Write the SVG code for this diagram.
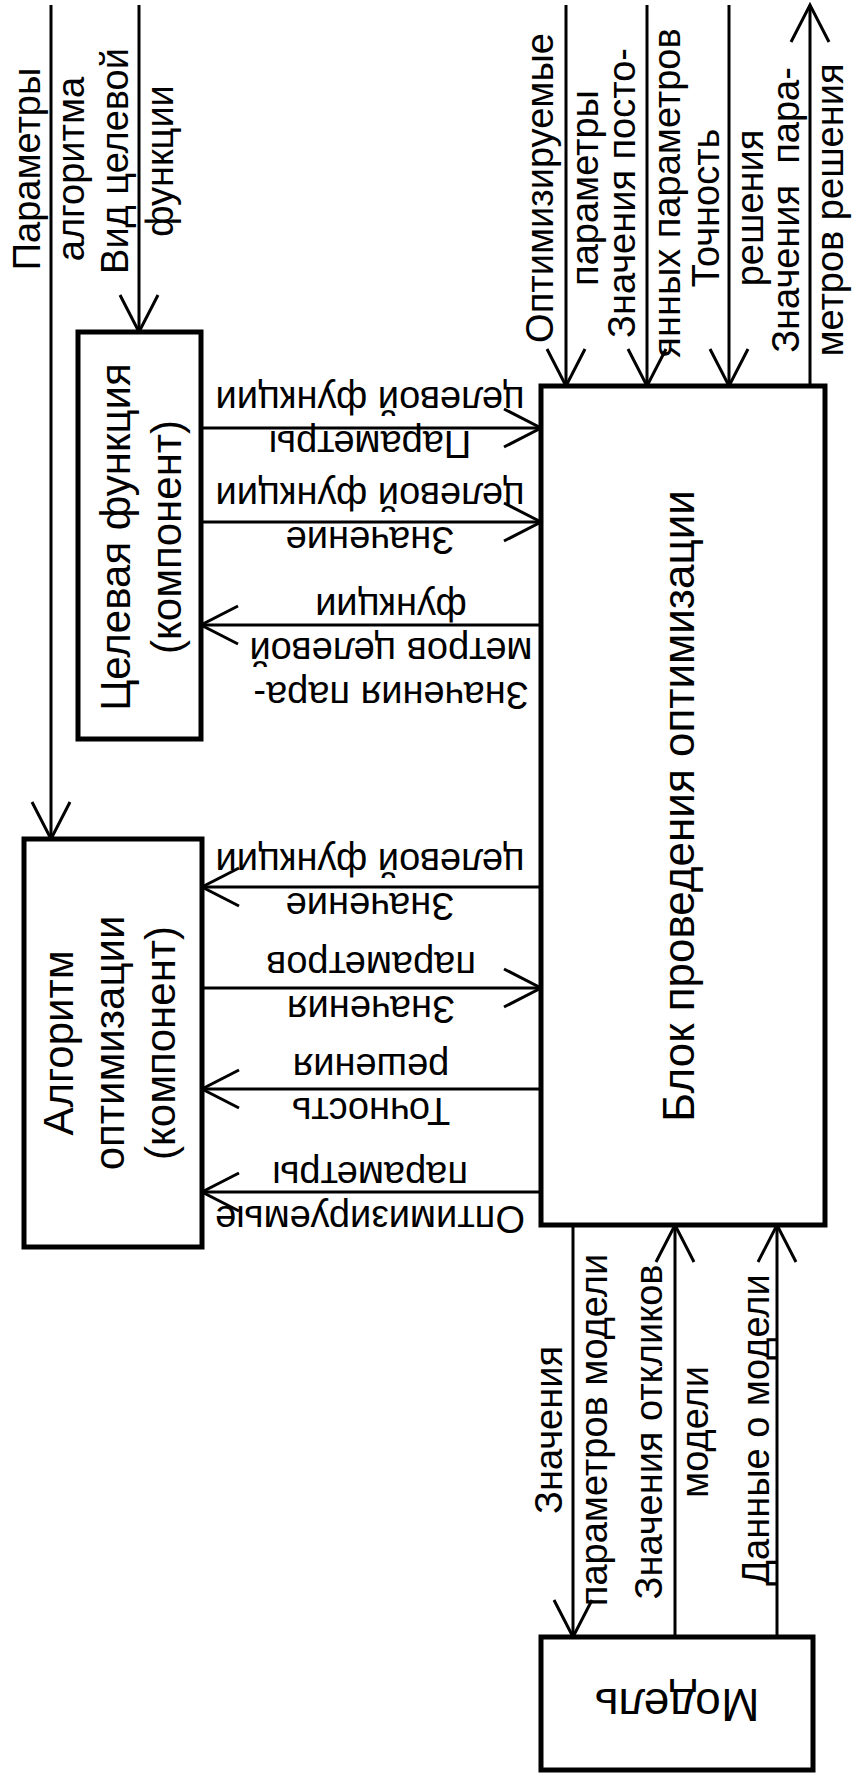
<svg xmlns="http://www.w3.org/2000/svg" width="852" height="1776" viewBox="0 0 852 1776">
<style>
text{font-family:"Liberation Sans",Arial,sans-serif;fill:#000}
.lbl{font-size:38px;text-anchor:middle}
.nd{font-size:42px;text-anchor:middle}
.box{fill:#fff;stroke:#000;stroke-width:5}
.ln{fill:none;stroke:#000;stroke-width:3}
</style>
<defs>
<marker id="arr" markerUnits="userSpaceOnUse" markerWidth="44" markerHeight="46" viewBox="-40 -23 44 46" refX="0" refY="0" orient="auto" overflow="visible">
<path d="M-37,-19 L0,0 L-37,19" fill="none" stroke="#000" stroke-width="3"/>
</marker>
</defs>
<rect width="852" height="1776" fill="#fff"/>
<g id="connectors">
<path class="ln" d="M51,5 V839" marker-end="url(#arr)"/>
<path class="ln" d="M139,5 V332" marker-end="url(#arr)"/>
<path class="ln" d="M566,5 V386" marker-end="url(#arr)"/>
<path class="ln" d="M647,5 V386" marker-end="url(#arr)"/>
<path class="ln" d="M729,5 V386" marker-end="url(#arr)"/>
<path class="ln" d="M810,386 V5" marker-end="url(#arr)"/>
<path class="ln" d="M201,428 H541" marker-end="url(#arr)"/>
<path class="ln" d="M201,522 H541" marker-end="url(#arr)"/>
<path class="ln" d="M541,625 H201" marker-end="url(#arr)"/>
<path class="ln" d="M541,887 H202" marker-end="url(#arr)"/>
<path class="ln" d="M202,988 H541" marker-end="url(#arr)"/>
<path class="ln" d="M541,1089 H202" marker-end="url(#arr)"/>
<path class="ln" d="M541,1192 H202" marker-end="url(#arr)"/>
<path class="ln" d="M573,1225 V1637" marker-end="url(#arr)"/>
<path class="ln" d="M675,1637 V1225" marker-end="url(#arr)"/>
<path class="ln" d="M777,1637 V1225" marker-end="url(#arr)"/>
<text class="lbl" transform="translate(40,169) rotate(-90)"><tspan x="0" y="0">Параметры</tspan><tspan x="0" y="44">алгоритма</tspan></text>
<text class="lbl" transform="translate(128,161) rotate(-90)"><tspan x="0" y="0">Вид целевой</tspan><tspan x="0" y="45">функции</tspan></text>
<text class="lbl" transform="translate(553,188) rotate(-90)"><tspan x="0" y="0">Оптимизируемые</tspan><tspan x="0" y="45">параметры</tspan></text>
<text class="lbl" transform="translate(635,193) rotate(-90)"><tspan x="0" y="0">Значения посто-</tspan><tspan x="0" y="45">янных параметров</tspan></text>
<text class="lbl" transform="translate(719,208) rotate(-90)"><tspan x="0" y="0">Точность</tspan><tspan x="0" y="44">решения</tspan></text>
<text class="lbl" transform="translate(799,210) rotate(-90)" xml:space="preserve"><tspan x="0" y="0">Значения  пара-</tspan><tspan x="0" y="44">метров решения</tspan></text>
<text class="lbl" transform="translate(370,431) rotate(180)"><tspan x="0" y="0">Параметры</tspan><tspan x="0" y="44">целевой функции</tspan></text>
<text class="lbl" transform="translate(370,527) rotate(180)"><tspan x="0" y="0">Значение</tspan><tspan x="0" y="44">целевой функции</tspan></text>
<text class="lbl" transform="translate(391,682) rotate(180)"><tspan x="0" y="0">Значения пара-</tspan><tspan x="0" y="44">метров целевой</tspan><tspan x="0" y="88">функции</tspan></text>
<text class="lbl" transform="translate(370,893) rotate(180)"><tspan x="0" y="0">Значение</tspan><tspan x="0" y="44">целевой функции</tspan></text>
<text class="lbl" transform="translate(371,996) rotate(180)"><tspan x="0" y="0">Значения</tspan><tspan x="0" y="44">параметров</tspan></text>
<text class="lbl" transform="translate(371,1098) rotate(180)"><tspan x="0" y="0">Точность</tspan><tspan x="0" y="44">решения</tspan></text>
<text class="lbl" transform="translate(370,1206) rotate(180)"><tspan x="0" y="0">Оптимизируемые</tspan><tspan x="0" y="44">параметры</tspan></text>
<text class="lbl" transform="translate(562,1430) rotate(-90)"><tspan x="0" y="0">Значения</tspan><tspan x="0" y="45">параметров модели</tspan></text>
<text class="lbl" transform="translate(662,1432) rotate(-90)"><tspan x="0" y="0">Значения откликов</tspan><tspan x="0" y="46">модели</tspan></text>
<text class="lbl" transform="translate(769,1430) rotate(-90)">Данные о модели</text>
</g>
<g id="node-target-function">
<rect class="box" x="78" y="332" width="123" height="407"/>
<text class="nd" transform="translate(130,537) rotate(-90)"><tspan x="0" y="0">Целевая функция</tspan><tspan x="0" y="51">(компонент)</tspan></text>
</g>
<g id="node-algorithm">
<rect class="box" x="24" y="839" width="178" height="408"/>
<text class="nd" transform="translate(73,1043) rotate(-90)"><tspan x="0" y="0">Алгоритм</tspan><tspan x="0" y="51">оптимизации</tspan><tspan x="0" y="102">(компонент)</tspan></text>
</g>
<g id="node-optimization-block">
<rect class="box" x="541" y="386" width="284" height="839"/>
<text class="nd" style="font-size:44px" transform="translate(694,806) rotate(-90)">Блок проведения оптимизации</text>
</g>
<g id="node-model">
<rect class="box" x="541" y="1637" width="272" height="133"/>
<text class="nd" style="font-size:46px" transform="translate(677,1689) rotate(180)">Модель</text>
</g>
</svg>
